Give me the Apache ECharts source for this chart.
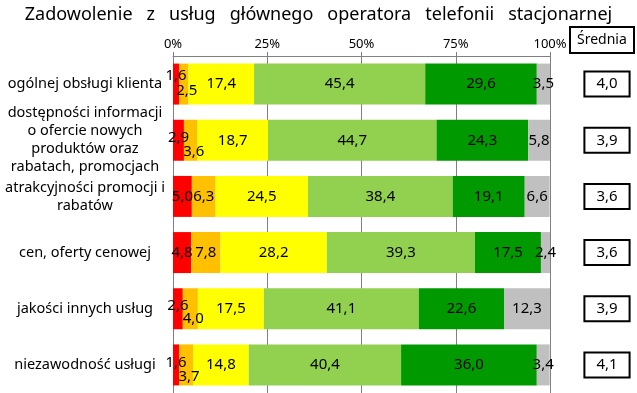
<!DOCTYPE html>
<html>
<head>
<meta charset="utf-8">
<script src="https://cdn.jsdelivr.net/npm/echarts@6/dist/echarts.min.js"></script>
<style>html,body{margin:0;padding:0;background:#fff;}#c{width:637px;height:393px;}</style>
</head>
<body>
<div id="c"></div>
<script>
const categories = [
  'ogólnej obsługi klienta',
  'dostępności informacji\no ofercie nowych\nproduktów oraz\nrabatach, promocjach',
  'atrakcyjności promocji i\nrabatów',
  'cen, oferty cenowej',
  'jakości innych usług',
  'niezawodność usługi'
];
const red = [1.6, 2.9, 5.0, 4.8, 2.6, 1.6];
const orange = [2.5, 3.6, 6.3, 7.8, 4.0, 3.7];
const yellow = [17.4, 18.7, 24.5, 28.2, 17.5, 14.8];
const lightGreen = [45.4, 44.7, 38.4, 39.3, 41.1, 40.4];
const darkGreen = [29.6, 24.3, 19.1, 17.5, 22.6, 36.0];
const gray = [3.5, 5.8, 6.6, 2.4, 12.3, 3.4];
const averages = [4.0, 3.9, 3.6, 3.6, 3.9, 4.1];
const xTickLabels = ['0%', '25%', '50%', '75%', '100%'];

// label nudges for narrow segments (style only): [redOffsetY, orangeOffsetY]
const smallLabelNudge = [[-8, 7], [-3, 11], null, null, [-3, 10], [-2, 12]];

const FONT = 'Noto Sans';
const fmt = v => v.toFixed(1).replace('.', ',');

function buildData(values, which) {
  return values.map((v, i) => {
    const n = smallLabelNudge[i];
    if (!n || which < 0) return v;
    return { value: v, label: { offset: which === 0 ? [0, n[0]] : [3, n[1]] } };
  });
}

const colors = ['#FF0000', '#FFC000', '#FFFF00', '#92D050', '#009900', '#C0C0C0'];
const seriesValues = [red, orange, yellow, lightGreen, darkGreen, gray];

const series = seriesValues.map((vals, k) => ({
  type: 'bar',
  stack: 'total',
  barWidth: 41,
  data: buildData(vals, k < 2 ? k : -1),
  itemStyle: { color: colors[k] },
  label: {
    show: true,
    position: 'inside',
    color: '#000',
    fontFamily: FONT,
    fontSize: 15,
    formatter: p => fmt(p.value)
  },
  emphasis: { disabled: true }
}));

const chart = echarts.init(document.getElementById('c'));
chart.setOption({
  animation: false,
  title: [
    {
      text: 'Zadowolenie   z   usług   głównego   operatora   telefonii   stacjonarnej',
      left: 'center',
      top: 1,
      textStyle: { fontFamily: FONT, fontSize: 18, fontWeight: 'normal', color: '#000' }
    },
    {
      text: 'Średnia',
      left: 570,
      top: 27,
      padding: [5, 7],
      borderColor: '#000',
      borderWidth: 2,
      textStyle: { fontFamily: FONT, fontSize: 14, fontWeight: 'normal', color: '#000', lineHeight: 16 }
    }
  ],
  grid: { left: 173, width: 377, top: 56, height: 340, containLabel: false },
  xAxis: {
    type: 'value',
    position: 'top',
    min: 0,
    max: 100,
    interval: 25,
    axisLine: { show: true, lineStyle: { color: '#808080' } },
    axisTick: { show: true, length: 4, lineStyle: { color: '#808080' } },
    splitLine: { show: true, lineStyle: { color: '#808080' } },
    axisLabel: {
      margin: 5,
      fontFamily: FONT,
      fontSize: 13,
      color: '#000',
      formatter: (v) => xTickLabels[Math.round(v / 25)]
    }
  },
  yAxis: [
    {
      type: 'category',
      inverse: true,
      data: categories,
      axisLine: { show: false },
      axisTick: { show: false },
      axisLabel: {
        align: 'center',
        margin: 88,
        fontFamily: FONT,
        fontSize: 14.5,
        lineHeight: 18,
        color: '#000'
      }
    },
    {
      type: 'category',
      inverse: true,
      position: 'right',
      data: categories,
      axisLine: { show: false },
      axisTick: { show: false },
      axisLabel: {
        align: 'center',
        margin: 57,
        fontFamily: FONT,
        fontSize: 15,
        lineHeight: 17,
        color: '#000',
        padding: [4, 12],
        borderColor: '#000',
        borderWidth: 2,
        formatter: (v, i) => fmt(averages[i])
      }
    }
  ],
  series: series
});
</script>
</body>
</html>
